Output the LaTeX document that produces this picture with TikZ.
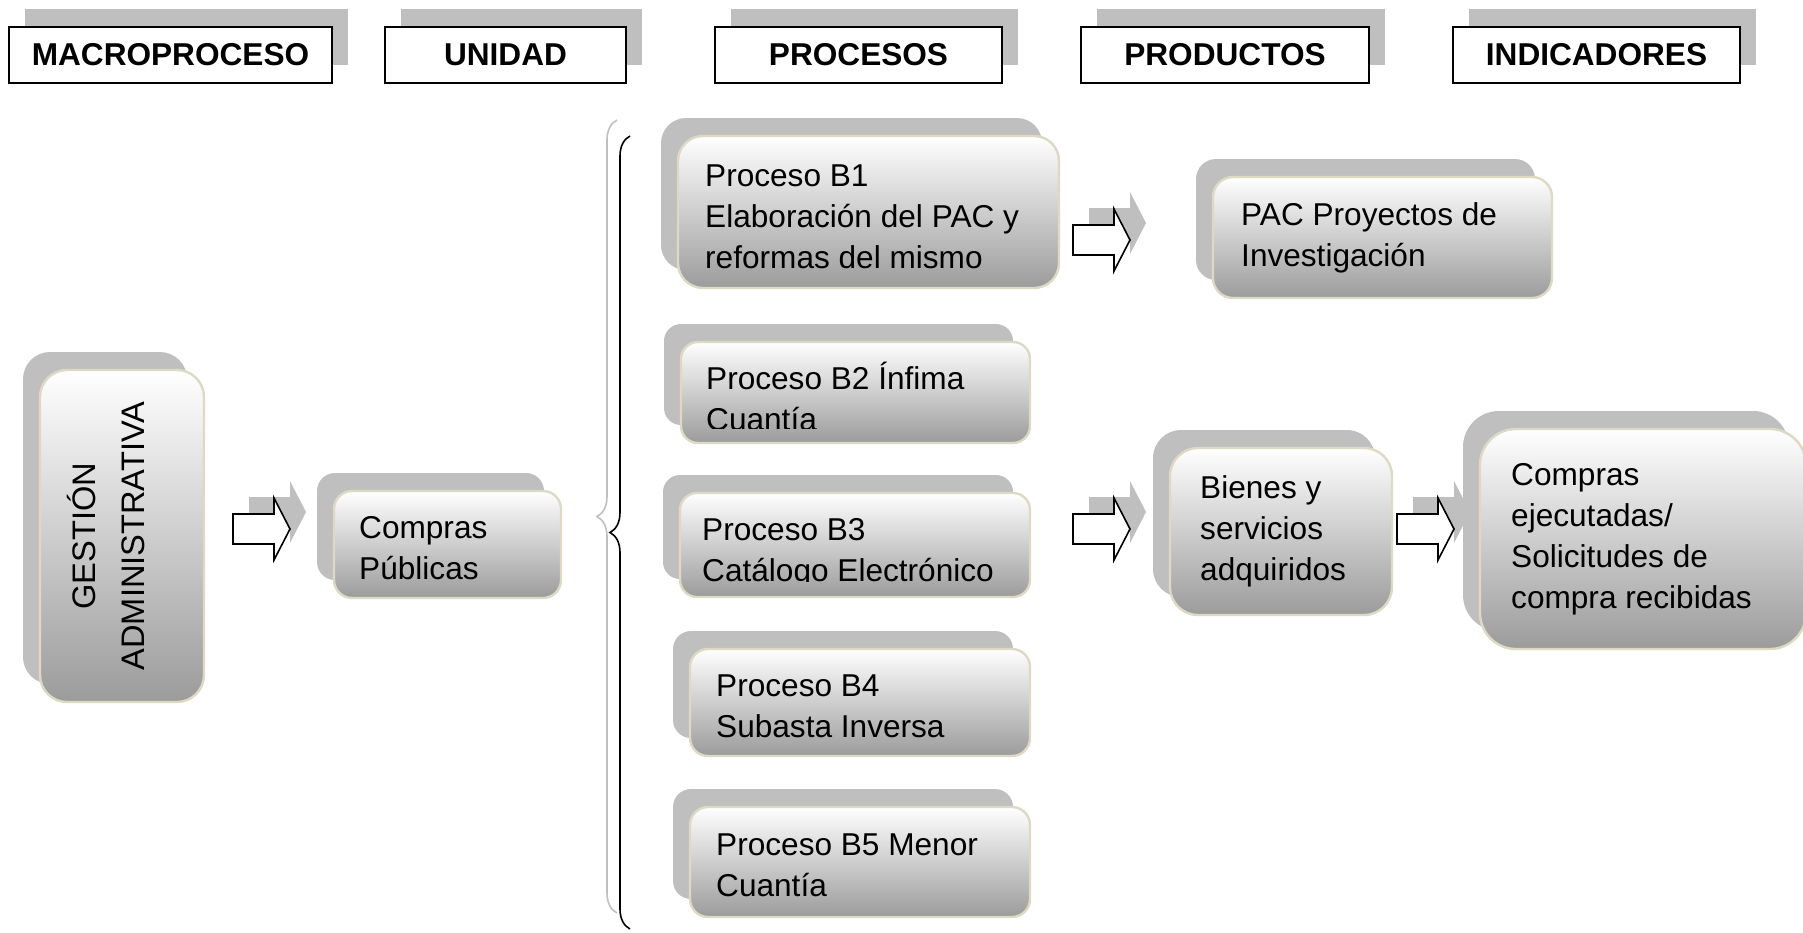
\documentclass[tikz,border=0pt]{standalone}
\usepackage{fontspec}
\setmainfont{Liberation Sans}
\usetikzlibrary{positioning,fit,shadows,decorations.pathreplacing}

\definecolor{gris}{HTML}{BFBFBF}
\definecolor{borde}{HTML}{DDD9C3}

\tikzset{
  texto/.style={font=\fontsize{15.8}{20.5}\selectfont, align=left, inner sep=0pt},
  cabecera/.style={draw, line width=1pt, fill=white, inner sep=0pt, minimum height=28pt, font=\fontsize{15.8}{20.5}\selectfont\bfseries,
    general shadow={fill=gris, shadow xshift=8pt, shadow yshift=9pt}},
  caja/.style={rounded corners=#1, draw=borde, line width=1.2pt, top color=white, bottom color=black!39, inner sep=0pt,
    general shadow={fill=gris, shadow xshift=-8.5pt, shadow yshift=9pt}},
  llave/.style={decorate, decoration={brace, amplitude=10pt}, line width=0.8pt},
}

\begin{document}
\begin{tikzpicture}[x=0.5pt, y=-0.5pt]
% 1 unit = 1 px of the 1803 x 932 sheet, y grows downwards
\useasboundingbox (0,0) rectangle (1803,932);
\foreach \n/\x/\w/\txt in {h1/170.5/161.5pt/MACROPROCESO, h2/505.5/120.5pt/UNIDAD, h3/858.5/143.5pt/PROCESOS, h4/1225/144pt/PRODUCTOS, h5/1596.5/143.5pt/INDICADORES}
  { \node[cabecera, minimum width=\w] (\n) at (\x,55) {\txt}; }
\foreach \n/\xa/\ya/\xb/\yb/\rad in {gest/40/370/204/702/13.5pt, comp/334/491/561/598/9pt, b1/678/136/1059/288/12.5pt, b2/681/342/1030/443/8.5pt, b3/680/493/1030/597/8.5pt, b4/690/649/1030/756/9pt, b5/690/807/1030/917/9pt, pac/1213/177/1552/298/10pt, bien/1170/448/1392/615/14pt, ind/1480/429/1806/649/18pt}
  { \node[caja=\rad, fit={(\xa,\ya) (\xb,\yb)}] (\n) {}; }
\node[texto, rotate=90, align=center, font=\fontsize{16.3}{24.5}\selectfont] (tgest) at ([xshift=-8pt]gest.center) {GESTIÓN\\ADMINISTRATIVA};
\node[texto, right=13pt of comp.west, yshift=-1.75pt] (tcomp) {Compras\\Públicas};
\node[texto, right=14pt of b1.west, yshift=-2.3pt] (tb1) {Proceso B1\\Elaboración del PAC y\\reformas del mismo};
\begin{scope}
  \clip (b2.north west) rectangle ([yshift=8pt]b2.south east);
  \node[texto, right=13pt of b2.west, yshift=-1.75pt] (tb2) {Proceso B2 Ínfima\\Cuantía};
\end{scope}
\begin{scope}
  \clip (b3.north west) rectangle ([yshift=8.5pt]b3.south east);
  \node[texto, right=11.5pt of b3.west, yshift=-4pt] (tb3) {Proceso B3\\Catálogo Electrónico};
\end{scope}
\node[texto, right=13.5pt of b4.west, yshift=-1.75pt] (tb4) {Proceso B4\\Subasta Inversa};
\node[texto, right=13.5pt of b5.west, yshift=-1.75pt] (tb5) {Proceso B5 Menor\\Cuantía};
\node[texto, right=14.5pt of pac.west] (tpac) {PAC Proyectos de\\Investigación};
\node[texto, right=15.5pt of bien.west] (tbien) {Bienes y\\servicios\\adquiridos};
\node[texto, right=16pt of ind.west] (tind) {Compras\\ejecutadas/\\Solicitudes de\\compra recibidas};
\draw[llave, gris] (617,913) -- (617,120);
\draw[llave] (630,929) -- (630,136);
\foreach \x/\y in {233/529, 1073/240, 1073/529, 1397/529} {
  \fill[gris] (\x+16,\y-32) -- ++(41,0) -- ++(0,-16) -- ++(16,31) -- ++(-16,31) -- ++(0,-16) -- ++(-41,0) -- cycle;
  \draw[line width=0.8pt, fill=white] (\x,\y-15) -- ++(41,0) -- ++(0,-16) -- ++(16,31) -- ++(-16,31) -- ++(0,-16) -- ++(-41,0) -- cycle;
}
\end{tikzpicture}
\end{document}
